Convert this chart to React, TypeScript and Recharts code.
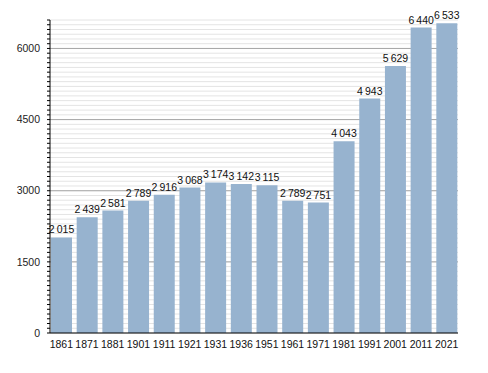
import { Bar, BarChart, CartesianGrid, LabelList, XAxis, YAxis } from 'recharts';

const years = ['1861', '1871', '1881', '1901', '1911', '1921', '1931', '1936', '1951', '1961', '1971', '1981', '1991', '2001', '2011', '2021'];
const population = [2015, 2439, 2581, 2789, 2916, 3068, 3174, 3142, 3115, 2789, 2751, 4043, 4943, 5629, 6440, 6533];
const majorTicks = [0, 1500, 3000, 4500, 6000];
// minor ticks every 100 up to the top of the axis
const minorTicks = Array.from({ length: 67 }, (_, i) => i * 100);

const data = years.map((year, i) => ({ year, value: population[i] }));

const font = '"Liberation Sans", Arial, sans-serif';

const formatPop = (v: number) => {
  const s = String(v);
  return s.length > 3 ? s.slice(0, -3) + '\u2009' + s.slice(-3) : s;
};

export default function App() {
  return (
    <div style={{ position: 'absolute', left: 0, top: 0, background: '#fff', fontFamily: font }}>
      <BarChart
        width={488}
        height={373}
        data={data}
        margin={{ top: 20, right: 30, bottom: 0, left: 0 }}
        barCategoryGap={2.5}
      >
        <CartesianGrid vertical={false} horizontalValues={minorTicks} stroke="#e4e4e4" strokeWidth={1} />
        <CartesianGrid vertical={false} horizontalValues={majorTicks.slice(1)} stroke="#a8a8a8" strokeWidth={1} />
        <XAxis
          dataKey="year"
          height={40}
          tickLine={false}
          axisLine={{ stroke: '#000' }}
          interval={0}
          padding={{ left: -1.5, right: -1.5 }}
          tick={{ fill: '#111', fontSize: 10.5, fontFamily: font }}
          tickMargin={2}
        />
        <YAxis
          width={50}
          domain={[0, 6600]}
          ticks={minorTicks}
          interval={0}
          tickSize={3}
          tickLine={{ stroke: '#000' }}
          axisLine={{ stroke: '#000' }}
          tickFormatter={(v: number) => (majorTicks.includes(v) ? String(v) : '')}
          tick={{ fill: '#222', fontSize: 10.5, fontFamily: font }}
          tickMargin={7}
          allowDataOverflow
        />
        <Bar dataKey="value" fill="#97b3cf" isAnimationActive={false}>
          <LabelList
            dataKey="value"
            position="top"
            offset={4}
            formatter={(v: number) => formatPop(v)}
            style={{ fill: '#111', fontSize: 10.5, fontFamily: font }}
          />
        </Bar>
      </BarChart>
    </div>
  );
}
